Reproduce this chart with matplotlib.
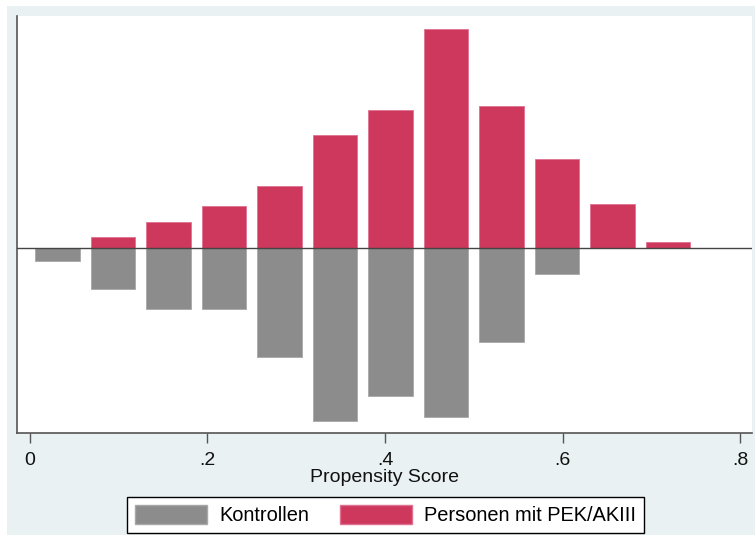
import numpy as np
import matplotlib
matplotlib.use("Agg")
import matplotlib.pyplot as plt
from matplotlib.patches import Rectangle, Patch

plt.rcParams['font.family'] = ['Liberation Sans', 'DejaVu Sans']

# Propensity score histogram, bins of width 1/16 on [0, 0.75)
bin_width = 0.0625
bin_left = np.arange(12) * bin_width
treated = [0.0, 1.04, 2.6, 4.2, 6.17, 11.27, 13.73, 21.87, 14.13, 8.9, 4.4, 0.6]
controls = [1.3, 4.13, 6.16, 6.2, 10.93, 17.33, 14.83, 16.96, 9.46, 2.66, 0.0, 0.0]
tick_values = [0, 0.2, 0.4, 0.6, 0.8]
tick_labels = ["0", ".2", ".4", ".6", ".8"]
series_names = ["Kontrollen", "Personen mit PEK/AKIII"]

bg = "#EAF1F3"
red = "#CD385C"
grey = "#8C8C8C"
fs = 14.0
legend_fs = 14.4

fig = plt.figure(figsize=(7.55, 5.35), dpi=100)
fig.patch.set_facecolor("white")
fig.add_artist(Rectangle((7 / 755, 0), 1 - 7 / 755, 1 - 6 / 535,
                         transform=fig.transFigure, facecolor=bg,
                         edgecolor="none", zorder=-10))

ax = fig.add_axes([17 / 755, 1 - 433 / 535, (752 - 17) / 755, (433 - 16) / 535])
ax.set_facecolor("white")

centers = bin_left + bin_width / 2
bar_w = 0.8 * bin_width
ax.bar(centers, treated, width=bar_w, color=red, edgecolor="#E07090",
       linewidth=0.6, zorder=2)
ax.bar(centers, -np.array(controls), width=bar_w, color=grey,
       edgecolor="#A8A8A8", linewidth=0.6, zorder=2)
ax.axhline(0, color="#444444", linewidth=1.0, zorder=3)

ax.set_xlim(-0.0144, 0.8133)
ax.set_ylim(-18.56, 23.17)

for side in ("top", "right"):
    ax.spines[side].set_visible(False)
ax.spines["left"].set_color("#555555")
ax.spines["bottom"].set_color("#555555")
ax.spines["left"].set_linewidth(1.2)
ax.spines["bottom"].set_linewidth(1.2)
ax.set_yticks([])
ax.set_xticks(tick_values)
ax.set_xticklabels(tick_labels)
ax.tick_params(axis="x", length=7, width=1.0, color="#555555", pad=6.5,
               labelsize=fs, labelcolor="#111111")
ax.set_xlabel("Propensity Score", fontsize=fs, color="#111111", labelpad=0.5)

handles = [Patch(facecolor=grey, edgecolor="#A8A8A8", label=series_names[0]),
           Patch(facecolor=red, edgecolor="#E07090", label=series_names[1])]
leg = fig.legend(handles=handles, loc="center", ncol=2,
                 bbox_to_anchor=(385.5 / 755, 1 - 515 / 535),
                 fontsize=legend_fs, frameon=True, fancybox=False,
                 handlelength=3.6, handleheight=1.05, handletextpad=0.6,
                 columnspacing=1.55, borderpad=0.42, borderaxespad=0)
leg.get_frame().set_edgecolor("black")
leg.get_frame().set_linewidth(1.0)
leg.get_frame().set_facecolor("white")
leg.get_frame().set_alpha(1)

fig.savefig("out.png", dpi=100, facecolor=fig.get_facecolor())
